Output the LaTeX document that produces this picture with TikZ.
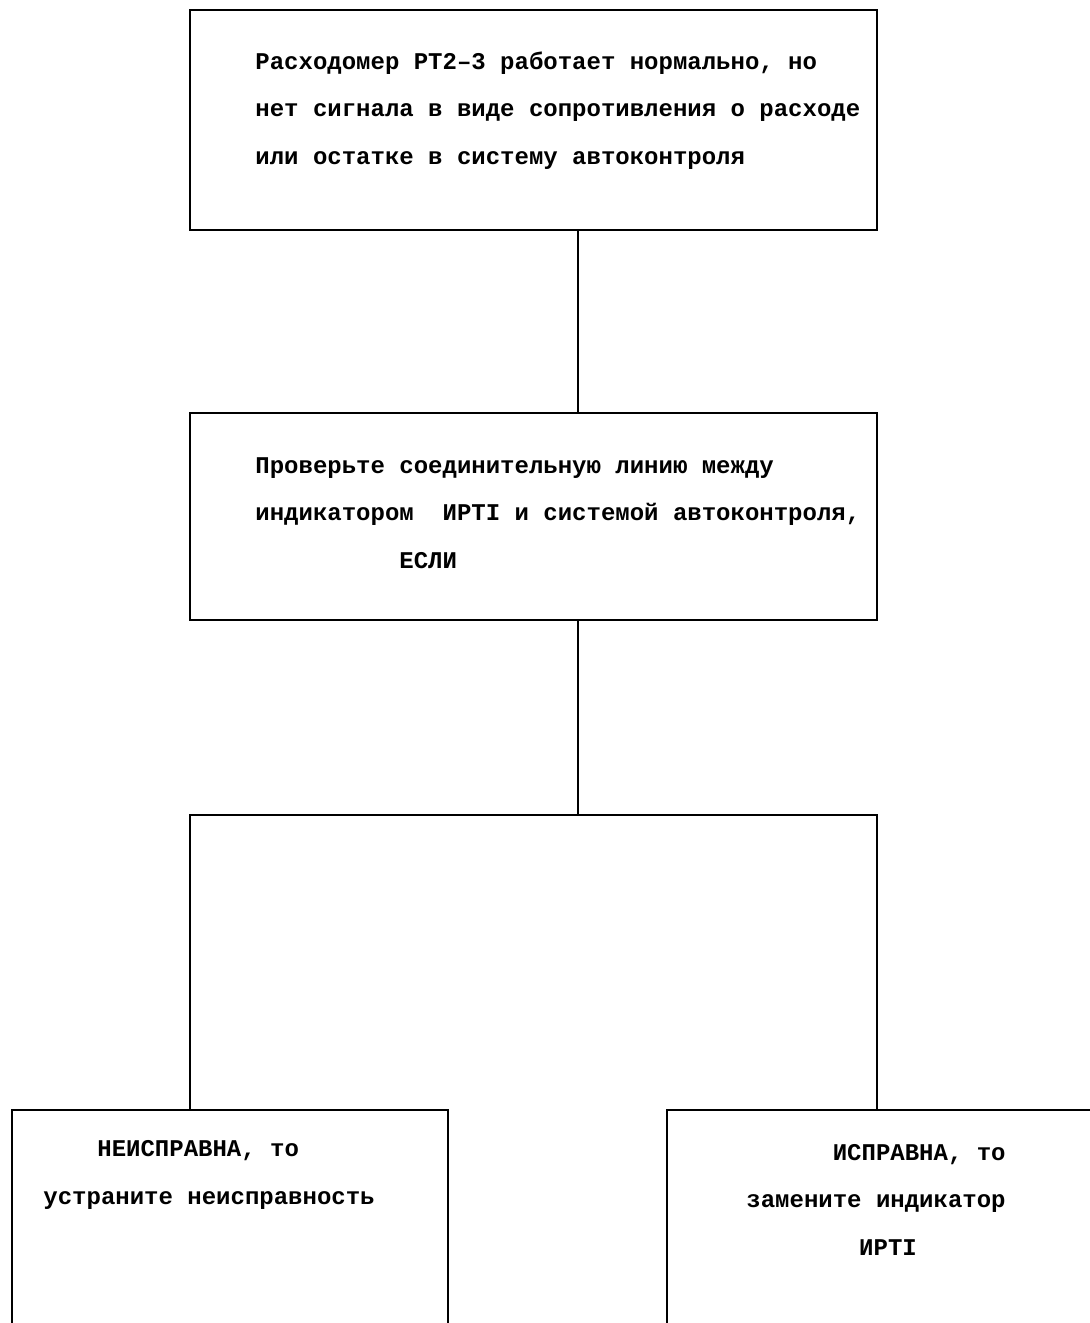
\documentclass[tikz,border=0pt]{standalone}
\usepackage{fontspec}
\setmonofont{Liberation Mono}

\begin{document}
\begin{tikzpicture}[
  x=0.5pt, y=-0.5pt,
  font=\fontsize{12}{23.75}\selectfont\ttfamily\bfseries,
  box/.style={draw,line width=1.2pt,inner sep=0pt,outer sep=0pt},
  txt/.style={inner sep=0pt,align=left,anchor=base west},
  link/.style={line width=1.2pt}
]
\useasboundingbox (0,0) rectangle (1090,1323);
\clip (0,0) rectangle (1090,1323);

% boxes of the chart
\node[box,minimum width=343.5pt,minimum height=110pt] (b1) at (533.5,120) {};
\node[box,minimum width=343.5pt,minimum height=103.5pt] (b2) at (533.5,516.5) {};
\node[box,minimum width=218pt,minimum height=125pt] (b3) at (230,1235) {};
\node[box,minimum width=231.5pt,minimum height=125pt] (b4) at (898.5,1235) {};

% texts (placed by the baseline of their last line)
\node[txt] (t1) at (255,164) {Расходомер РТ2–3 работает нормально, но\\
  нет сигнала в виде сопротивления о расходе\\
  или остатке в систему автоконтроля};
\node[txt] (t2) at (255,568) {Проверьте соединительную линию между\\
  индикатором\ \ ИРТI и системой автоконтроля,\\
  \hspace*{6em}ЕСЛИ};
\node[txt] (t3) at (43,1204) {\hspace*{2.25em}НЕИСПРАВНА, то\\
  устраните неисправность};
\node[txt] (t4) at (746,1255) {\hspace*{3.6em}ИСПРАВНА, то\\
  замените индикатор\\
  \hspace*{4.7em}ИРТI};

% connections
\coordinate (fork) at (578,815);
\draw[link] ([xshift=22.25pt]b1.south) -- ([xshift=22.25pt]b2.north);
\draw[link] ([xshift=22.25pt]b2.south) -- (fork);
\draw[link] (b3.north -| b2.west) -- (b2.west |- fork) -- (b2.east |- fork)
  -- (b4.north -| b2.east);
\end{tikzpicture}
\end{document}
